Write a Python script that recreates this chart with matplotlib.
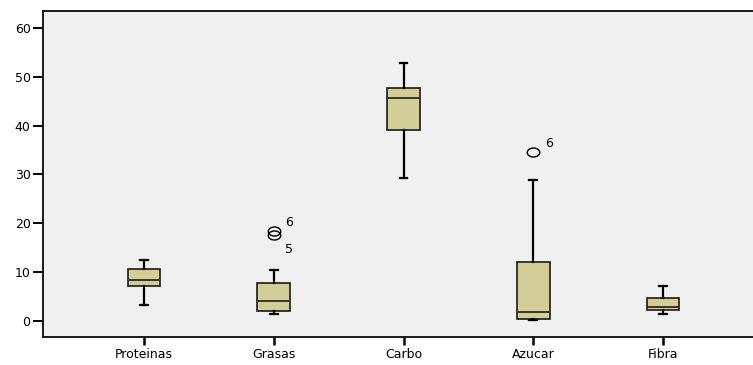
import numpy as np
import matplotlib
matplotlib.use("Agg")
import matplotlib.pyplot as plt
from matplotlib.path import Path

plt.rcParams["font.family"] = ["DejaVu Sans"]

categorias = ["Proteinas", "Grasas", "Carbo", "Azucar", "Fibra"]
bigote_inf = [3.3, 1.4, 29.2, 0.1, 1.4]
q1 = [7.2, 2.1, 39.1, 0.35, 2.2]
mediana = [8.3, 4.0, 45.6, 1.9, 2.8]
q3 = [10.6, 7.7, 47.8, 12.0, 4.6]
bigote_sup = [12.5, 10.4, 52.9, 28.8, 7.2]
atipicos = [[], [18.5, 17.6], [], [34.6], []]
etiquetas_atipicos = [[], ["6", "5"], [], ["6"], []]
# desplazamiento vertical (en unidades de datos) de cada etiqueta
desp_etiquetas = [[], [1.6, -3.0], [], [1.7], []]

stats = []
for i, nom in enumerate(categorias):
    stats.append(dict(label=nom, whislo=bigote_inf[i], q1=q1[i], med=mediana[i],
                      q3=q3[i], whishi=bigote_sup[i], fliers=atipicos[i]))

# circulo ligeramente achatado como el de SPSS
t = np.linspace(0, 2 * np.pi, 60)
ovalo = Path(np.column_stack([np.cos(t), 0.72 * np.sin(t)]))

fig = plt.figure(figsize=(7.53, 3.65), dpi=100)
ax = fig.add_axes([43 / 753, 28 / 365, 721 / 753, 326 / 365])
ax.set_facecolor("#F0F0F0")

pos = np.arange(1, len(categorias) + 1)
ax.bxp(stats, positions=pos, widths=0.25, patch_artist=True, showfliers=True,
       boxprops=dict(facecolor="#D3CE98", edgecolor="#1a1a1a", linewidth=1.2),
       medianprops=dict(color="#2a2a20", linewidth=1.3),
       whiskerprops=dict(color="black", linewidth=1.6),
       capprops=dict(color="black", linewidth=1.6),
       capwidths=0.06,
       flierprops=dict(marker=ovalo, markersize=9, markerfacecolor="none",
                       markeredgecolor="black", markeredgewidth=1.0))

for i in range(len(categorias)):
    for val, lab, d in zip(atipicos[i], etiquetas_atipicos[i], desp_etiquetas[i]):
        ax.text(pos[i] + 0.09, val + d, lab, fontsize=9, ha="left", va="center")

ax.set_xlim(1 - 101 / 130, 5 + 101 / 130)
ax.set_ylim(-3.3, 63.5)
ax.set_yticks([0, 10, 20, 30, 40, 50, 60])
ax.set_xticks(pos)
ax.set_xticklabels(categorias)

for s in ["left", "bottom", "top"]:
    ax.spines[s].set_linewidth(1.4)
    ax.spines[s].set_color("#1a1a1a")
ax.spines["right"].set_visible(False)
ax.tick_params(axis="y", direction="out", length=7, width=1.4, labelsize=9, pad=2)
ax.tick_params(axis="x", direction="out", length=6, width=1.8, labelsize=9, pad=2)

fig.savefig("out.png", dpi=100)
